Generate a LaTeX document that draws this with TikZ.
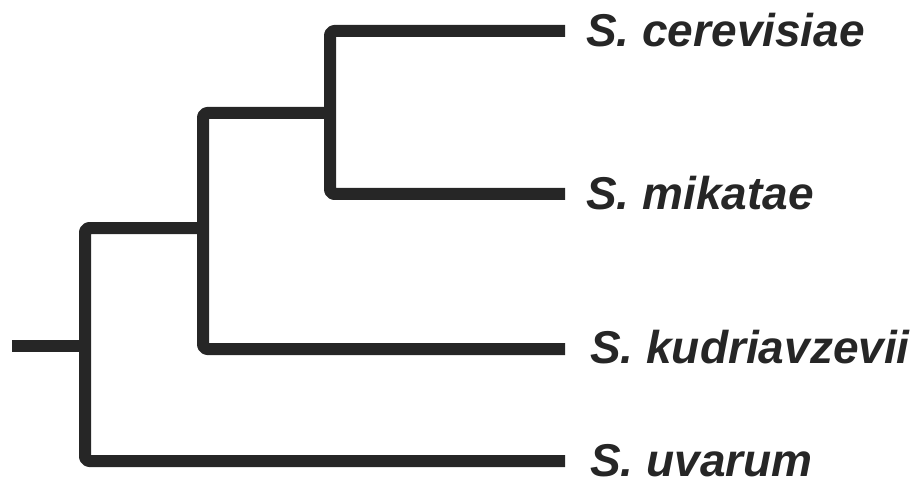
\documentclass[tikz,border=0pt]{standalone}
\usepackage{fontspec}
\setmainfont{Liberation Sans}
\definecolor{branch}{RGB}{38,38,38}
\begin{document}
\begin{tikzpicture}[x=1pt,y=-1pt,
  branchline/.style={draw=branch,line width=12pt,line cap=butt,line join=round,rounded corners=4pt},
  taxon/.style={anchor=base west,inner sep=0pt,text depth=0pt,text=branch,font=\fontsize{46}{50}\selectfont\bfseries\itshape}]
\useasboundingbox (0,0) rectangle (923,481);
% leaf ends
\coordinate (ceEnd) at (565,31);
\coordinate (miEnd) at (565,194);
\coordinate (kuEnd) at (565,349);
\coordinate (uvEnd) at (565,461);
% internal nodes
\coordinate (n3) at (330,113);
\coordinate (n2) at (203,228);
\coordinate (n1) at (85,346);
\coordinate (rootEnd) at (12,346);
% branches
\draw[branchline] (ceEnd) -- (330,31) -- (330,194) -- (miEnd);
\draw[branchline] (n3) -- (203,113) -- (203,349) -- (kuEnd);
\draw[branchline] (n2) -- (85,228) -- (85,461) -- (uvEnd);
\draw[branchline] (rootEnd) -- (n1);
% labels
\node[taxon] (ce) at (586,47) {S. cerevisiae};
\node[taxon] (mi) at (586,210) {S. mikatae};
\node[taxon] (ku) at (590,363) {S. kudriavzevii};
\node[taxon] (uv) at (590,476) {S. uvarum};
\end{tikzpicture}
\end{document}
